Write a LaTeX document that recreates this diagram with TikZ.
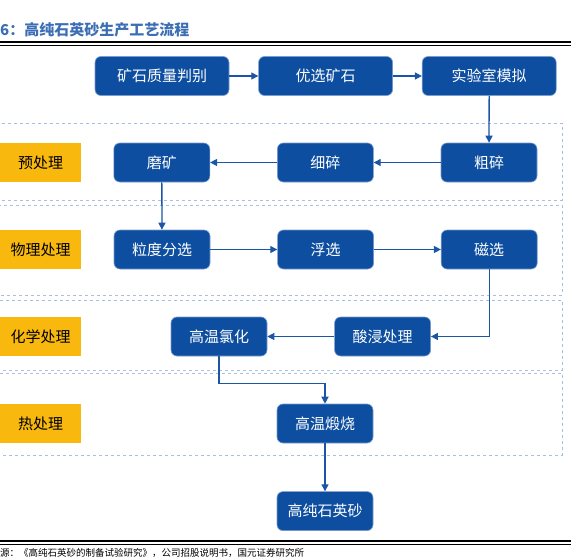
\documentclass[tikz,border=0pt]{standalone}
\usepackage{fontspec}
\setmainfont{Noto Sans CJK SC}
\usetikzlibrary{positioning, arrows.meta}
\definecolor{flowblue}{HTML}{0E4EA0}
\definecolor{boxedge}{HTML}{7A9CD0}
\definecolor{arrowblue}{HTML}{1A55A6}
\definecolor{stageyellow}{HTML}{F8B80E}
\definecolor{bandline}{HTML}{A9BFE0}
\definecolor{titleblue}{HTML}{3C6EB4}

\begin{document}
\begin{tikzpicture}[
    x=1pt, y=-1pt, node distance=29pt,
    stepbox/.style={rectangle, draw=boxedge, line width=0.6pt, fill=flowblue, text=white, rounded corners=6pt, minimum width=96pt, minimum height=39pt, inner sep=0pt, font=\fontsize{15}{17}\selectfont},
    widebox/.style={stepbox, minimum width=134pt},
    stage/.style={rectangle, fill=stageyellow, minimum width=81pt, minimum height=39pt, inner sep=0pt, font=\fontsize{15}{17}\selectfont},
    band/.style={draw=bandline, dashed, line width=0.5pt},
    flow/.style={draw=arrowblue, line width=1.3pt, -{Triangle[length=7pt, width=7pt]}},
]
\useasboundingbox (0,0) rectangle (571,560);
\clip (0,0) rectangle (571,560);

% title and rules
\node[anchor=west, inner sep=0pt, text=titleblue, font=\fontsize{15}{17}\selectfont\bfseries] (title) at (0,30) {6：高纯石英砂生产工艺流程};
\draw[line width=1.4pt] (0,42) -- (571,42);
\draw[line width=0.6pt] (0,44.8) -- (571,44.8);
\draw[line width=1.4pt] (0,541) -- (571,541);
\draw[line width=0.6pt] (0,543.8) -- (571,543.8);
\node[anchor=west, inner sep=0pt, font=\fontsize{9.5}{11}\selectfont] (source) at (0,553) {源：《高纯石英砂的制备试验研究》，公司招股说明书，国元证券研究所};

% dashed bands
\draw[band] (-5,123) rectangle (562,200);
\draw[band] (-5,205) rectangle (562,295);
\draw[band] (-5,300) rectangle (562,370);
\draw[band] (-5,373) rectangle (562,455);

% stage labels
\node[stage] (pre) at (40.5,162.5) {预处理};
\node[stage] (phys) at (40.5,249.5) {物理处理};
\node[stage] (chem) at (40.5,336.5) {化学处理};
\node[stage] (heat) at (40.5,423.5) {热处理};

% steps
\node[widebox] (judge) at (162,76) {矿石质量判别};
\node[widebox, right=of judge] (choose) {优选矿石};
\node[widebox, right=of choose] (lab) {实验室模拟};

\node[stepbox] (coarse) at (489,162.5) {粗碎};
\node[stepbox, left=67pt of coarse] (fine) {细碎};
\node[stepbox, left=67pt of fine] (grind) {磨矿};

\node[stepbox] (sieve) at (162,249.5) {粒度分选};
\node[stepbox, right=67pt of sieve] (flotation) {浮选};
\node[stepbox, right=67pt of flotation] (magnet) {磁选};

\node[stepbox] (chlor) at (219,336.5) {高温氯化};
\node[stepbox, right=67pt of chlor] (leach) {酸浸处理};

\node[stepbox] (calcine) at (325,423.5) {高温煅烧};
\node[stepbox, below=48pt of calcine] (product) {高纯石英砂};

\draw[flow] (judge) -- (choose);
\draw[flow] (choose) -- (lab);
\draw[flow] (lab) -- (coarse);
\draw[flow] (coarse) -- (fine);
\draw[flow] (fine) -- (grind);
\draw[flow] (grind) -- (sieve);
\draw[flow] (sieve) -- (flotation);
\draw[flow] (flotation) -- (magnet);
\draw[flow] (magnet) |- (leach);
\draw[flow] (leach) -- (chlor);
\draw[flow] (chlor.south) -- ++(0,27) -| (calcine.north);
\draw[flow] (calcine) -- (product);
\end{tikzpicture}
\end{document}
